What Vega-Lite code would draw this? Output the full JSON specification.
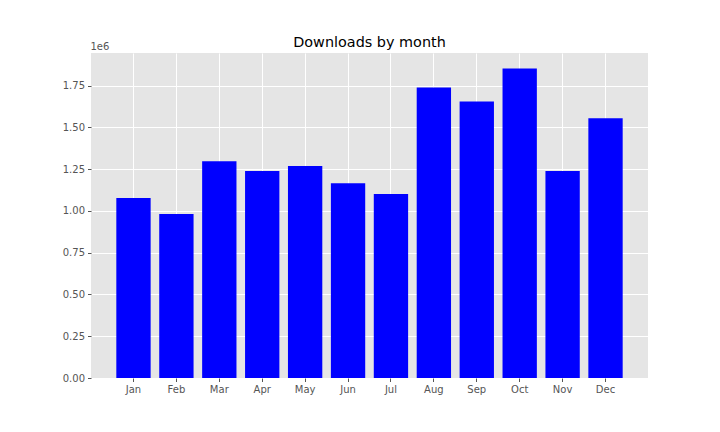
{
  "$schema": "https://vega.github.io/schema/vega-lite/v6.json",
  "autosize": {"type": "none"},
  "padding": {"left": 91, "top": 53, "right": 72, "bottom": 54},
  "width": 557,
  "height": 325,
  "background": "white",
  "title": {
    "text": "Downloads by month",
    "fontSize": 14.4,
    "fontWeight": "normal",
    "color": "black",
    "font": "DejaVu Sans",
    "offset": -9
  },
  "data": {
    "values": [
      {"month": "Jan", "downloads": 1077000},
      {"month": "Feb", "downloads": 981000},
      {"month": "Mar", "downloads": 1297000},
      {"month": "Apr", "downloads": 1238000},
      {"month": "May", "downloads": 1268000},
      {"month": "Jun", "downloads": 1166000},
      {"month": "Jul", "downloads": 1101000},
      {"month": "Aug", "downloads": 1738000},
      {"month": "Sep", "downloads": 1655000},
      {"month": "Oct", "downloads": 1852000},
      {"month": "Nov", "downloads": 1238000},
      {"month": "Dec", "downloads": 1554000}
    ]
  },
  "mark": {"type": "bar", "color": "#0000FF"},
  "encoding": {
    "x": {
      "field": "month",
      "type": "nominal",
      "sort": null,
      "scale": {"paddingInner": 0.2, "paddingOuter": 0.59},
      "axis": {
        "title": null,
        "labelAngle": 0,
        "bandPosition": 0.5,
        "labelPadding": 3
      }
    },
    "y": {
      "field": "downloads",
      "type": "quantitative",
      "scale": {"domain": [0, 1944600], "nice": false, "zero": true},
      "axis": {
        "values": [0, 250000, 500000, 750000, 1000000, 1250000, 1500000, 1750000],
        "labelExpr": "format(datum.value / 1000000, '.2f')",
        "title": "1e6",
        "titleAngle": 0,
        "titleAlign": "left",
        "titleBaseline": "alphabetic",
        "titleX": -1,
        "titleY": -4,
        "titleFontWeight": "normal",
        "titleFontSize": 10,
        "titleColor": "#555555",
        "labelPadding": 3
      }
    }
  },
  "config": {
    "font": "DejaVu Sans",
    "view": {"fill": "#E5E5E5", "stroke": null},
    "axis": {
      "domain": false,
      "grid": true,
      "gridColor": "white",
      "gridWidth": 1,
      "tickColor": "#555555",
      "tickSize": 3.5,
      "labelColor": "#555555",
      "labelFontSize": 10,
      "labelFont": "DejaVu Sans"
    }
  }
}
